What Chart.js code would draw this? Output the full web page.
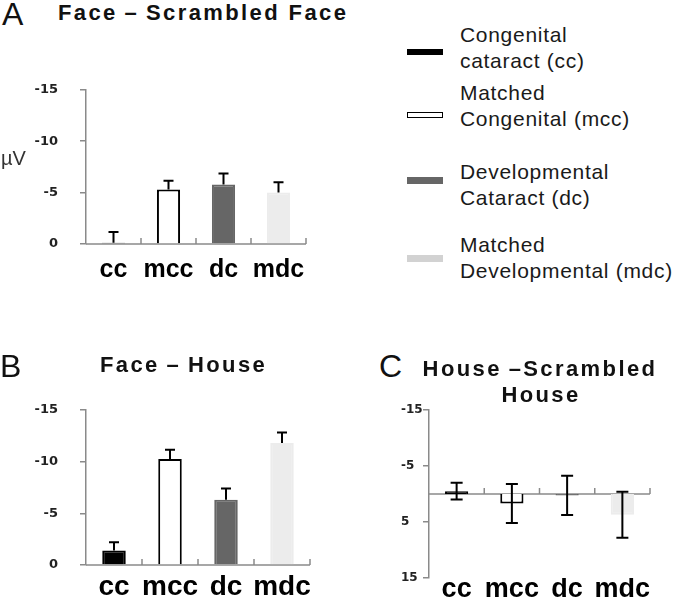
<!DOCTYPE html>
<html>
<head>
<meta charset="utf-8">
<script src="https://cdn.jsdelivr.net/npm/chart.js@4.4.1/dist/chart.umd.min.js"></script>
<style>
  html, body { margin: 0; padding: 0; background: #fff; }
  #page { position: relative; width: 680px; height: 600px; overflow: hidden; font-family: 'Liberation Sans', Arial, sans-serif; color: #111; }
  .box { position: absolute; }
  .t { position: absolute; white-space: nowrap; line-height: 1; }
  .sw { position: absolute; left: 407px; width: 36px; box-sizing: border-box; }
</style>
</head>
<body>
<div id="page">
  <div class="box" style="left:0;top:60px;width:330px;height:240px"><canvas id="chartA" width="330" height="240"></canvas></div>
  <div class="box" style="left:0;top:380px;width:340px;height:220px"><canvas id="chartB" width="340" height="220"></canvas></div>
  <div class="box" style="left:360px;top:395px;width:320px;height:205px"><canvas id="chartC" width="320" height="205"></canvas></div>
</div>

<script>
// ── data ──
const groups = ['cc', 'mcc', 'dc', 'mdc'];

// A  Face – Scrambled Face (µV)
const faceScrMean = [-0.12, -5.3, -5.8, -5.0];
const faceScrErr  = [1.05, 0.85, 1.05, 1.0];

// B  Face – House
const faceHouseMean = [-1.4, -10.25, -6.3, -11.8];
const faceHouseErr  = [0.8, 0.9, 1.1, 1.0];

// C  House – Scrambled House
const houseScrMean = [-0.5, 1.7, 0.25, 3.7];
const houseScrErr  = [1.5, 3.5, 3.5, 4.1];

const yTicksAB = [0, -5, -10, -15];
const yTicksC  = [-15, -5, 5, 15];

const legendLines = [
  ['Congenital', 'cataract (cc)'],
  ['Matched', 'Congenital (mcc)'],
  ['Developmental', 'Cataract (dc)'],
  ['Matched', 'Developmental (mdc)'],
];

// ── styles ──
const barFill  = ['#000000', '#ffffff', '#666666', '#ececec'];
const barEdge  = ['#000000', '#000000', '#666666', '#ececec'];
const swatchFill = ['#000000', '#ffffff', '#666666', '#d2d2d2'];
const axisCol  = '#8a8a8a';

const page = document.getElementById('page');

function txt(str, x, base, size, o = {}) {
  const d = document.createElement('div');
  d.className = 't';
  d.textContent = str;
  d.style.fontSize = size + 'px';
  d.style.top = (base - 0.8465 * size) + 'px';
  d.style.left = x + 'px';
  if (o.center) d.style.transform = 'translateX(-50%)';
  if (o.bold) d.style.fontWeight = 'bold';
  if (o.ls) d.style.letterSpacing = o.ls + 'px';
  if (o.color) d.style.color = o.color;
  page.appendChild(d);
}

// panel letters + titles
txt('A', 2, 25, 32);
txt('B', 0, 377, 32);
txt('C', 379, 377, 32);
txt('Face\u2009–\u2009Scrambled Face', 58, 21, 22, { bold: true, ls: 2.4 });
txt('Face\u2009–\u2009House', 100, 373, 22, { bold: true, ls: 2.4 });
txt('House\u2009–Scrambled', 540, 377, 22, { bold: true, ls: 2.4, center: true });
txt('House', 541, 403, 22, { bold: true, ls: 2.4, center: true });
txt('µV', 1, 165, 20, { color: '#333' });

// legend
const legBase = [42, 100, 179, 252];
const swTop   = [49, 112, 177, 255];
legendLines.forEach((lines, i) => {
  lines.forEach((l, j) => txt(l, 460, legBase[i] + j * 26, 21, { ls: 0.7, color: '#1a1a1a' }));
  const s = document.createElement('div');
  s.className = 'sw';
  s.style.top = swTop[i] + 'px';
  s.style.height = (i < 2 ? 6 : 7) + 'px';
  s.style.background = swatchFill[i];
  if (i === 1) s.style.border = '1.5px solid #000';
  page.appendChild(s);
});

// zero line with small upward ticks between categories
const zeroAxis = {
  id: 'zeroAxis',
  beforeDatasetsDraw(chart) {
    const { ctx, chartArea: a, scales: { x, y } } = chart;
    const y0 = y.getPixelForValue(0);
    ctx.save();
    ctx.strokeStyle = axisCol;
    ctx.lineWidth = 1.5;
    ctx.beginPath();
    ctx.moveTo(a.left, y0);
    ctx.lineTo(a.right, y0);
    for (let i = 1; i <= groups.length; i++) {
      const xb = i < groups.length ? (x.getPixelForValue(i - 1) + x.getPixelForValue(i)) / 2 : a.right;
      ctx.moveTo(xb, y0);
      ctx.lineTo(xb, y0 - 6);
    }
    ctx.stroke();
    ctx.restore();
  }
};

// error bars (one-sided away from zero in A/B, both sides in C)
const errBars = {
  id: 'errBars',
  afterDatasetsDraw(chart, args, opts) {
    const { ctx, scales: { y } } = chart;
    const meta = chart.getDatasetMeta(0);
    const cap = opts.cap;
    ctx.save();
    ctx.strokeStyle = '#000';
    ctx.lineWidth = 2;
    meta.data.forEach((bar, i) => {
      const v = opts.means[i], e = opts.errs[i];
      const hi = y.getPixelForValue(v - e);
      const lo = y.getPixelForValue(opts.twoSided ? v + e : v);
      ctx.beginPath();
      ctx.moveTo(bar.x, hi); ctx.lineTo(bar.x, lo);
      ctx.moveTo(bar.x - cap, hi); ctx.lineTo(bar.x + cap, hi);
      if (opts.twoSided) { ctx.moveTo(bar.x - cap, lo); ctx.lineTo(bar.x + cap, lo); }
      ctx.stroke();
    });
    ctx.restore();
  }
};

function panel(id, means, errs, o) {
  return new Chart(document.getElementById(id), {
    type: 'bar',
    data: {
      labels: groups,
      datasets: [{
        data: means,
        backgroundColor: barFill,
        borderColor: barEdge,
        borderWidth: 2,
        barPercentage: 0.42,
        categoryPercentage: 1,
      }],
    },
    options: {
      responsive: false,
      animation: false,
      devicePixelRatio: 1,
      layout: { padding: o.pad },
      plugins: {
        legend: { display: false },
        tooltip: { enabled: false },
        errBars: { means, errs, twoSided: o.twoSided, cap: o.cap },
      },
      scales: {
        x: {
          border: { display: false },
          grid: { display: false, drawTicks: false },
          ticks: {
            color: '#000', padding: o.xPad, autoSkip: false, maxRotation: 0, minRotation: 0,
            font: { family: "'Liberation Sans', Arial, sans-serif", size: o.xSize, weight: 'bold' },
          },
          afterFit: s => { s.height = o.xH; },
        },
        y: {
          reverse: true,
          min: o.min, max: o.max,
          border: { color: axisCol, width: 1.5 },
          grid: { drawOnChartArea: false, color: axisCol, tickLength: 6, lineWidth: 1.5 },
          ticks: { color: '#222', padding: o.yPad, crossAlign: o.cross, font: { family: "'DejaVu Sans', sans-serif", size: o.ySize, weight: 'bold' } },
          afterBuildTicks: s => { s.ticks = o.ticks.map(v => ({ value: v })); },
          afterFit: s => { s.width = o.yW; },
        },
      },
    },
    plugins: [zeroAxis, errBars],
  });
}

panel('chartA', faceScrMean, faceScrErr, {
  pad: { top: 18, right: 24, left: 0, bottom: 0 }, yW: 86, xH: 56, xPad: 11, xSize: 25,
  min: -15, max: 0, ticks: yTicksAB, yPad: 22, ySize: 13, cross: 'near', cap: 5, twoSided: false,
});
panel('chartB', faceHouseMean, faceHouseErr, {
  pad: { top: 18, right: 30, left: 0, bottom: 0 }, yW: 86, xH: 35, xPad: 5, xSize: 28,
  min: -15, max: 0, ticks: yTicksAB, yPad: 22, ySize: 13, cross: 'near', cap: 5, twoSided: false,
});
panel('chartC', houseScrMean, houseScrErr, {
  pad: { top: 15, right: 30, left: 41, bottom: 0 }, yW: 28, xH: 22, xPad: -5, xSize: 27,
  min: -15, max: 15, ticks: yTicksC, yPad: 4, ySize: 12, cross: 'far', cap: 6, twoSided: true,
});
</script>
</body>
</html>
